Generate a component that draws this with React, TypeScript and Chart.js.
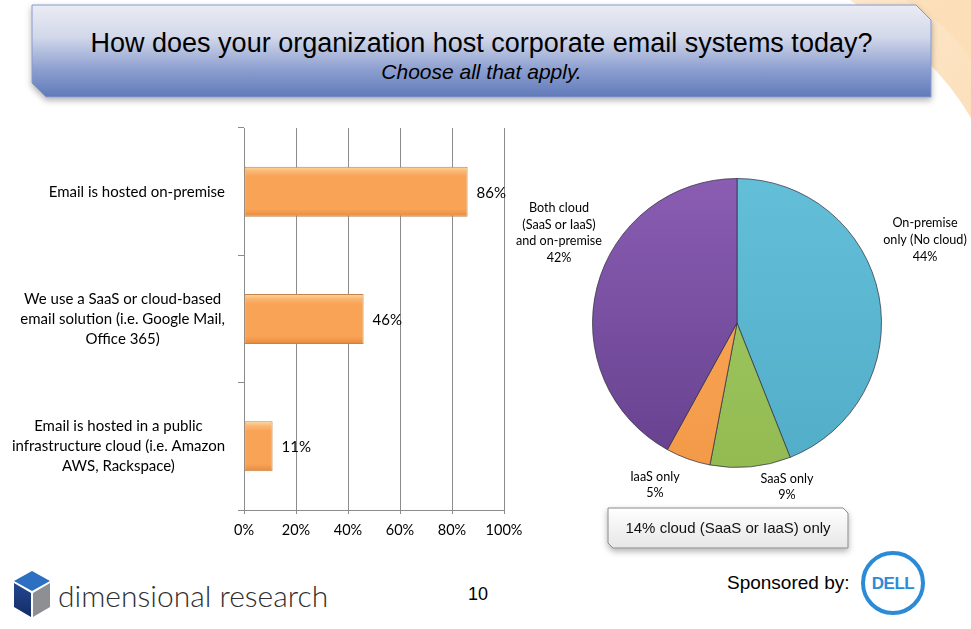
import React, { useEffect, useRef } from "react";
import { Chart, registerables } from "chart.js";

Chart.register(...registerables);

// ---------- data ----------
const barCategories: string[][] = [
  ["Email is hosted on-premise"],
  ["We use a SaaS or cloud-based", "email solution (i.e. Google Mail,", "Office 365)"],
  ["Email is hosted in a public", "infrastructure cloud (i.e. Amazon", "AWS, Rackspace)"],
];
const barValues = [86, 46, 11];
const xTickMin = 0;
const xTickMax = 100;
const xTickStep = 20;

const pieCategories: string[][] = [
  ["On-premise", "only (No cloud)"],
  ["SaaS only"],
  ["IaaS only"],
  ["Both cloud", "(SaaS or IaaS)", "and on-premise"],
];
const pieValues = [44, 9, 5, 42];
const pieTop = ["#63bfd8", "#a3cb66", "#fbaa5c", "#8a5db3"];
const pieBottom = ["#52aec8", "#93bb52", "#f39a48", "#66418e"];

// label anchor offsets relative to pie centre (layout only)
const pieLabelOffsets: [number, number][] = [
  [188, -83],
  [50, 164],
  [-82, 162],
  [-178, -90],
];

const LABEL_FONT = "Lato, 'Open Sans', sans-serif";

const barLabelPlugin = {
  id: "barLabels",
  afterDatasetsDraw(chart: any) {
    const ctx = chart.ctx;
    const meta = chart.getDatasetMeta(0);
    ctx.save();
    ctx.font = `15px ${LABEL_FONT}`;
    ctx.fillStyle = "#000";
    ctx.textBaseline = "middle";
    ctx.textAlign = "left";
    meta.data.forEach((el: any, i: number) => {
      ctx.fillText(barValues[i] + "%", el.x + 9, el.y + 1);
    });
    const y = chart.scales.y;
    ctx.textAlign = "center";
    barCategories.forEach((lines, i) => {
      const cy = y.getPixelForTick(i);
      const w = Math.max(...lines.map((l) => ctx.measureText(l).width));
      const cx = y.right - 19 - w / 2;
      const lh = 20;
      lines.forEach((l, j) => ctx.fillText(l, cx, cy + (j - (lines.length - 1) / 2) * lh));
    });
    ctx.restore();
  },
};

const pieLabelPlugin = {
  id: "pieLabels",
  afterDatasetsDraw(chart: any) {
    const ctx = chart.ctx;
    const meta = chart.getDatasetMeta(0);
    ctx.save();
    ctx.font = `12.6px ${LABEL_FONT}`;
    ctx.fillStyle = "#000";
    ctx.textBaseline = "middle";
    ctx.textAlign = "center";
    meta.data.forEach((arc: any, i: number) => {
      const lines = [...pieCategories[i], pieValues[i] + "%"];
      const [dx, dy] = pieLabelOffsets[i];
      const lh = 16.6;
      lines.forEach((l, j) =>
        ctx.fillText(l, arc.x + dx, arc.y + dy + (j - (lines.length - 1) / 2) * lh)
      );
    });
    ctx.restore();
  },
};

function BarChart() {
  const ref = useRef<HTMLCanvasElement>(null);
  useEffect(() => {
    const chart = new Chart(ref.current!, {
      type: "bar",
      data: {
        labels: barCategories.map((c) => c.join(" ")),
        datasets: [
          {
            data: barValues,
            backgroundColor: (c: any) => {
              const { ctx, scales } = c.chart;
              const y = scales && scales.y;
              if (!y || c.dataIndex === undefined) return "#f9a357";
              const cy = y.getPixelForValue(c.dataIndex);
              if (!Number.isFinite(cy)) return "#f9a357";
              const g = ctx.createLinearGradient(0, cy - 25, 0, cy + 25);
              g.addColorStop(0, "#fcd79c");
              g.addColorStop(0.1, "#fab571");
              g.addColorStop(0.2, "#f9a357");
              g.addColorStop(0.85, "#f9a357");
              g.addColorStop(1, "#e68a3c");
              return g;
            },
            borderColor: "#c28447",
            borderWidth: 1,
            borderSkipped: false,
            categoryPercentage: 1,
            barPercentage: 0.393,
          },
        ],
      },
      options: {
        indexAxis: "y",
        animation: false,
        responsive: false,
        events: [],
        layout: { padding: { top: 8, right: 36, left: 0, bottom: 0 } },
        plugins: { legend: { display: false }, tooltip: { enabled: false } },
        scales: {
          x: {
            min: xTickMin,
            max: xTickMax,
            ticks: {
              stepSize: xTickStep,
              callback: (v: any) => v + "%",
              color: "#000",
              font: { family: LABEL_FONT, size: 14.5 },
              padding: 8,
              maxRotation: 0,
            },
            grid: { color: "#8c8c8c", lineWidth: 1, tickLength: 4 },
            border: { color: "#8c8c8c" },
            afterFit: (s: any) => {
              s.height = 40;
            },
          },
          y: {
            ticks: { display: false },
            grid: { drawOnChartArea: false, color: "#8c8c8c", tickLength: 6, offset: true },
            border: { color: "#8c8c8c" },
            afterFit: (s: any) => {
              s.width = 244;
            },
          },
        },
      },
      plugins: [barLabelPlugin],
    } as any);
    return () => chart.destroy();
  }, []);
  return (
    <canvas
      ref={ref}
      width={540}
      height={430}
      style={{ position: "absolute", left: 0, top: 120, width: 540, height: 430 }}
    />
  );
}

function PieChart() {
  const ref = useRef<HTMLCanvasElement>(null);
  useEffect(() => {
    const chart = new Chart(ref.current!, {
      type: "pie",
      data: {
        labels: pieCategories.map((c) => c.join(" ")),
        datasets: [
          {
            data: pieValues,
            backgroundColor: (c: any) => {
              const { ctx, chartArea } = c.chart;
              const i = c.dataIndex ?? 0;
              if (!chartArea || !Number.isFinite(chartArea.top) || !Number.isFinite(chartArea.bottom))
                return pieTop[i];
              const g = ctx.createLinearGradient(0, chartArea.top, 0, chartArea.bottom);
              g.addColorStop(0, pieTop[i]);
              g.addColorStop(1, pieBottom[i]);
              return g;
            },
            borderColor: "rgba(50,50,70,0.75)",
            borderWidth: 1,
          },
        ],
      },
      options: {
        animation: false,
        responsive: false,
        events: [],
        rotation: 0,
        layout: { padding: { left: 92, right: 89, top: 58, bottom: 52 } },
        plugins: { legend: { display: false }, tooltip: { enabled: false } },
      },
      plugins: [pieLabelPlugin],
    } as any);
    return () => chart.destroy();
  }, []);
  return (
    <canvas
      ref={ref}
      width={471}
      height={400}
      style={{ position: "absolute", left: 500, top: 120, width: 471, height: 400 }}
    />
  );
}

export default function App() {
  return (
    <div
      style={{
        position: "absolute",
        left: 0,
        top: 0,
        width: 971,
        height: 629,
        background: "#fff",
        overflow: "hidden",
        fontFamily: "'Liberation Sans', Arial, sans-serif",
      }}
    >
      <svg width={971} height={629} style={{ position: "absolute", left: 0, top: 0 }}>
        <defs>
          <linearGradient id="ban" x1="0" y1="0" x2="0" y2="1">
            <stop offset="0" stopColor="#eaecf4" />
            <stop offset="0.35" stopColor="#d2d8ea" />
            <stop offset="0.7" stopColor="#8d9fd0" />
            <stop offset="1" stopColor="#5f7ab9" />
          </linearGradient>
          <linearGradient id="peach" x1="0" y1="0" x2="1" y2="1">
            <stop offset="0" stopColor="#fde6c6" stopOpacity="0.9" />
            <stop offset="1" stopColor="#fbd3a0" stopOpacity="0.7" />
          </linearGradient>
          <linearGradient id="box" x1="0" y1="0" x2="0" y2="1">
            <stop offset="0" stopColor="#ffffff" />
            <stop offset="1" stopColor="#e6e6e6" />
          </linearGradient>
          <linearGradient id="cubeL" x1="0" y1="0" x2="0" y2="1">
            <stop offset="0" stopColor="#23478f" />
            <stop offset="1" stopColor="#142c66" />
          </linearGradient>
          <filter id="sh" x="-5%" y="-20%" width="110%" height="150%">
            <feDropShadow dx="0" dy="3" stdDeviation="3" floodColor="#000" floodOpacity="0.3" />
          </filter>
        </defs>
        <path d="M 850 0 L 971 0 L 971 118 Q 935 55 850 0 Z" fill="url(#peach)" />
        <path d="M 905 0 L 971 0 L 971 60 Q 950 25 905 0 Z" fill="#fcdcb2" opacity="0.6" />
        <polygon
          points="32,5 916,5 931,20 931,97 46,97 32,83"
          fill="url(#ban)"
          stroke="#8798cc"
          strokeWidth="1"
          filter="url(#sh)"
        />
        <polygon
          points="608,508 843,508 848,513 848,548 613,548 608,543"
          fill="url(#box)"
          stroke="#8a8a8a"
          strokeWidth="1"
          filter="url(#sh)"
        />
        <polygon points="32,571 50,581 32,591 14,581" fill="#2d6fc0" />
        <polygon points="14,583 31,593 31,617 14,607" fill="url(#cubeL)" />
        <polygon points="33,593 50,583 50,607 33,617" fill="#8d8f93" />
        <circle cx={893} cy={583} r={30} fill="none" stroke="#2b8bd6" strokeWidth={4} />
        <text
          x={893}
          y={589}
          textAnchor="middle"
          fontFamily="'Liberation Sans', Arial, sans-serif"
          fontWeight="bold"
          fontSize={17}
          letterSpacing={-0.5}
          fill="#2b8bd6"
        >
          DELL
        </text>
      </svg>

      <div
        style={{
          position: "absolute",
          left: 32,
          width: 899,
          top: 27,
          textAlign: "center",
          fontSize: 27,
          lineHeight: "32px",
          color: "#000",
        }}
      >
        How does your organization host corporate email systems today?
      </div>
      <div
        style={{
          position: "absolute",
          left: 32,
          width: 899,
          top: 60,
          textAlign: "center",
          fontSize: 21,
          fontStyle: "italic",
          lineHeight: "24px",
          color: "#000",
        }}
      >
        Choose all that apply.
      </div>

      <BarChart />
      <PieChart />

      <div
        style={{
          position: "absolute",
          left: 608,
          width: 240,
          top: 508,
          height: 40,
          lineHeight: "40px",
          textAlign: "center",
          fontSize: 15,
          color: "#111",
        }}
      >
        14% cloud (SaaS or IaaS) only
      </div>

      <div
        style={{
          position: "absolute",
          left: 58,
          top: 575,
          fontFamily: "Lato, 'Open Sans', sans-serif",
          fontSize: 30,
          lineHeight: "40px",
          color: "#2f2f2f",
          fontWeight: 300,
        }}
      >
        dimensional research
      </div>
      <div
        style={{ position: "absolute", left: 468, top: 583, fontSize: 18, lineHeight: "22px", color: "#000" }}
      >
        10
      </div>
      <div
        style={{ position: "absolute", left: 727, top: 572, fontSize: 19, lineHeight: "22px", color: "#000" }}
      >
        Sponsored by:
      </div>
    </div>
  );
}
